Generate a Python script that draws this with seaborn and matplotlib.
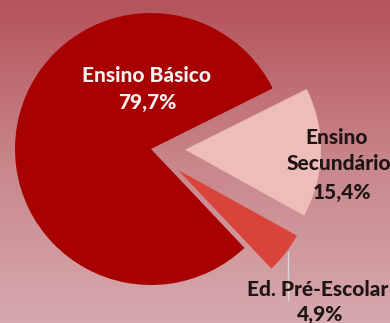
import numpy as np
import matplotlib
matplotlib.use("Agg")
import matplotlib.pyplot as plt
from matplotlib.colors import LinearSegmentedColormap
import seaborn as sns

# ---- data ----
categories = ["Ensino Secundário", "Ed. Pré-Escolar", "Ensino Básico"]
values = [15.4, 4.9, 79.7]
value_labels = ["15,4%", "4,9%", "79,7%"]
slice_colors = ["#EFBDB9", "#D9443A", "#A80000"]
explode = [0.25, 0.25, 0.0]

sns.set_theme(style="white")
plt.rcParams['font.family'] = ['Lato', 'DejaVu Sans']

W, H = 390, 323
fig = plt.figure(figsize=(W / 100, H / 100), dpi=100)
ax = fig.add_axes([0, 0, 1, 1])

# pixel geometry of the pie (center and radius in pixels)
cx, cy, R = 151, 149, 136

def P(px, py):
    return (px - cx) / R, (cy - py) / R

x0, y0 = P(0, H)
x1, y1 = P(W, 0)

# background gradient
grad = np.linspace(0, 1, 256).reshape(-1, 1)
cmap = LinearSegmentedColormap.from_list("bg", ["#B5525A", "#C8868B", "#D6A9AD"])
ax.imshow(grad, extent=[x0, x1, y0, y1], cmap=cmap, aspect="auto", origin="upper", zorder=0)

wedges, _ = ax.pie(values, explode=explode, colors=slice_colors, startangle=26.5,
                   counterclock=False, radius=1, center=(0, 0),
                   wedgeprops=dict(linewidth=0))
for w in wedges:
    w.set_zorder(2)

ax.set_xlim(x0, x1)
ax.set_ylim(y0, y1)
ax.set_aspect("equal")
ax.axis("off")

# leader line for Pré-Escolar
lx = 288
ax.plot([P(lx, 252)[0], P(lx, 300)[0]], [P(lx, 252)[1], P(lx, 300)[1]],
        color="#D8D8D8", lw=1.0, zorder=1)

fs = 15
def label(px, py, s, color):
    x, y = P(px, py)
    ax.text(x, y, s, ha="center", va="center", fontsize=fs, fontweight="black",
            color=color, zorder=3)

label(147, 76, "Ensino Básico", "#F7F0F0")
label(147, 103, value_labels[2], "#F7F0F0")
label(337, 137, "Ensino", "#1E1414")
label(339, 164, "Secundário", "#1E1414")
label(342, 192, value_labels[0], "#1E1414")
label(318, 289, "Ed. Pré-Escolar", "#1E1414")
label(320, 315, value_labels[1], "#1E1414")

fig.savefig("out.png", dpi=100)
